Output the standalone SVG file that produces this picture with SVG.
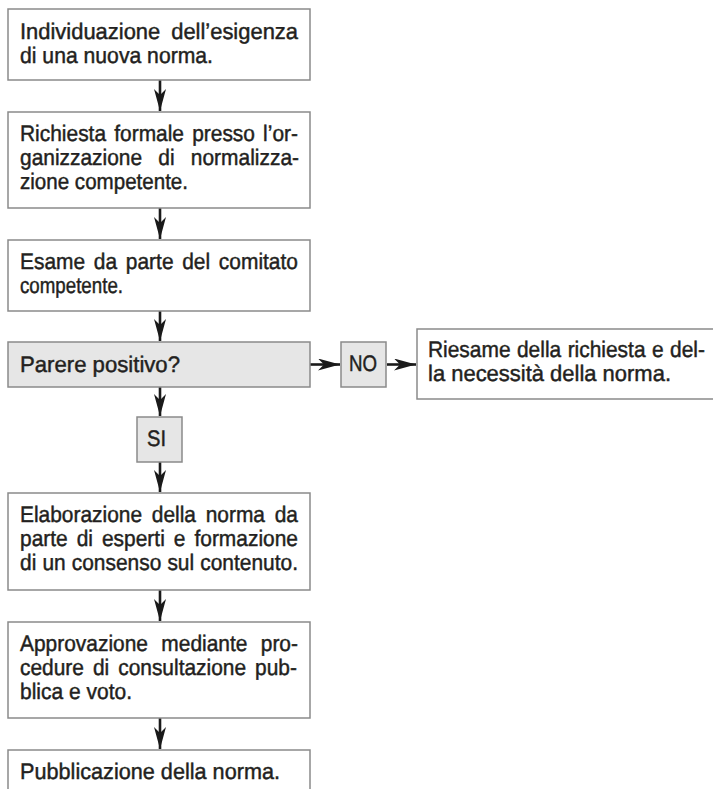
<svg xmlns="http://www.w3.org/2000/svg" width="713" height="789" viewBox="0 0 713 789">
<style>
.box{fill:#ffffff;stroke:#8a8a8a;stroke-width:1.5}
.gbox{fill:#e6e6e6;stroke:#8a8a8a;stroke-width:1.5}
text{font-family:"Liberation Sans",Arial,sans-serif;font-size:22.5px;fill:#231f20;stroke:#231f20;stroke-width:0.45px;font-kerning:none;text-rendering:geometricPrecision}
.conn line{stroke:#1a1a1a;stroke-width:2.6;fill:none}
</style>
<defs>
<marker id="ah" viewBox="0 0 22 12" markerWidth="22" markerHeight="12" refX="22" refY="6" orient="auto" markerUnits="userSpaceOnUse">
<path d="M0,0 L22,6 L0,12 L6,6 Z" fill="#1a1a1a"/>
</marker>
</defs>
<rect width="713" height="789" fill="#ffffff"/>
<g class="conn">
<line x1="160" y1="80" x2="160" y2="111" marker-end="url(#ah)"/>
<line x1="160" y1="208" x2="160" y2="239" marker-end="url(#ah)"/>
<line x1="160" y1="311" x2="160" y2="341" marker-end="url(#ah)"/>
<line x1="160" y1="387" x2="160" y2="416" marker-end="url(#ah)"/>
<line x1="160" y1="462" x2="160" y2="492" marker-end="url(#ah)"/>
<line x1="160" y1="590" x2="160" y2="621" marker-end="url(#ah)"/>
<line x1="160" y1="718" x2="160" y2="749" marker-end="url(#ah)"/>
<line x1="310" y1="364.5" x2="340" y2="364.5" marker-end="url(#ah)"/>
<line x1="387" y1="364.5" x2="416" y2="364.5" marker-end="url(#ah)"/>
</g>
<g id="n1">
<rect class="box" x="8" y="9" width="302" height="71"/>
<text x="20" y="39" style="word-spacing:5px" textLength="278" lengthAdjust="spacingAndGlyphs">Individuazione dell’esigenza</text>
<text x="20" y="63" textLength="193" lengthAdjust="spacingAndGlyphs">di una nuova norma.</text>
</g>
<g id="n2">
<rect class="box" x="8" y="112" width="302" height="96"/>
<text transform="translate(20 141) scale(0.93 1)" style="word-spacing:2.5px" textLength="298.9" lengthAdjust="spacing">Richiesta formale presso l’or-</text>
<text transform="translate(20 165) scale(0.93 1)" style="word-spacing:11.2px" textLength="300" lengthAdjust="spacing">ganizzazione di normalizza-</text>
<text x="20" y="189" textLength="168" lengthAdjust="spacingAndGlyphs">zione competente.</text>
</g>
<g id="n3">
<rect class="box" x="8" y="240" width="302" height="71"/>
<text transform="translate(20 269) scale(0.93 1)" style="word-spacing:3.1px" textLength="298.9" lengthAdjust="spacing">Esame da parte del comitato</text>
<text x="20" y="293" textLength="103" lengthAdjust="spacingAndGlyphs">competente.</text>
</g>
<g id="n4">
<rect class="gbox" x="8" y="342" width="302" height="45"/>
<text x="20" y="372" textLength="160" lengthAdjust="spacingAndGlyphs">Parere positivo?</text>
</g>
<g id="no">
<rect class="gbox" x="341" y="342" width="45" height="45"/>
<text x="349" y="371" textLength="28" lengthAdjust="spacingAndGlyphs">NO</text>
</g>
<g id="n5">
<rect class="box" x="417" y="329" width="297" height="70"/>
<text transform="translate(428 357) scale(0.93 1)" style="word-spacing:0.7px" textLength="297.8" lengthAdjust="spacing">Riesame della richiesta e del-</text>
<text x="428" y="381" textLength="243" lengthAdjust="spacingAndGlyphs">la necessità della norma.</text>
</g>
<g id="si">
<rect class="gbox" x="137" y="417" width="45" height="45"/>
<text x="147" y="446" textLength="19" lengthAdjust="spacingAndGlyphs">SI</text>
</g>
<g id="n6">
<rect class="box" x="8" y="493" width="302" height="97"/>
<text transform="translate(20 522) scale(0.93 1)" style="word-spacing:4.2px" textLength="298.9" lengthAdjust="spacing">Elaborazione della norma da</text>
<text transform="translate(20 546) scale(0.93 1)" style="word-spacing:3.4px" textLength="298.9" lengthAdjust="spacing">parte di esperti e formazione</text>
<text transform="translate(20 570) scale(0.93 1)" style="word-spacing:0.3px" textLength="298.9" lengthAdjust="spacing">di un consenso sul contenuto.</text>
</g>
<g id="n7">
<rect class="box" x="8" y="622" width="302" height="96"/>
<text transform="translate(20 651) scale(0.93 1)" style="word-spacing:8.1px" textLength="298.9" lengthAdjust="spacing">Approvazione mediante pro-</text>
<text transform="translate(20 675) scale(0.93 1)" style="word-spacing:3.4px" textLength="297.8" lengthAdjust="spacing">cedure di consultazione pub-</text>
<text x="20" y="699" textLength="112" lengthAdjust="spacingAndGlyphs">blica e voto.</text>
</g>
<g id="n8">
<rect class="box" x="8" y="750" width="302" height="60"/>
<text x="20" y="779" textLength="260" lengthAdjust="spacingAndGlyphs">Pubblicazione della norma.</text>
</g>
</svg>
